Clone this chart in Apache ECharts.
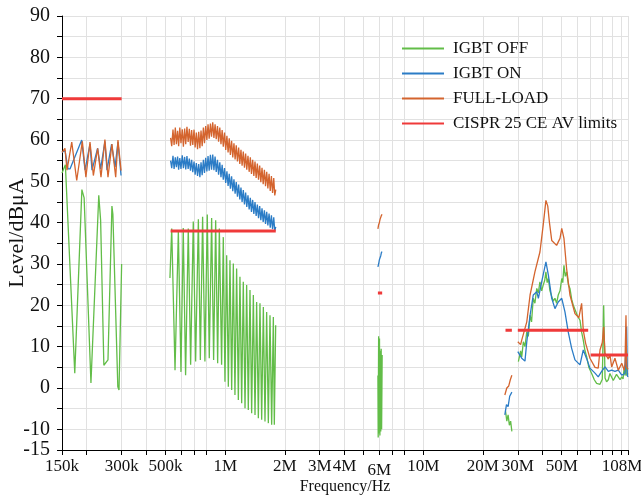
<!DOCTYPE html>
<html>
<head>
<meta charset="utf-8">
<script src="https://cdn.jsdelivr.net/npm/echarts@6/dist/echarts.min.js"></script>
<style>
  html, body { margin: 0; padding: 0; background: #fff; }
  #chart { width: 641px; height: 501px; }
</style>
</head>
<body>
<div id="chart"></div>
<script>
// frequencies in MHz, levels in dBuA
var tickMHz = [0.15, 0.2, 0.3, 0.4, 0.5, 0.6, 0.7, 0.8, 1, 2, 3, 4, 5, 6, 7, 8, 10, 20, 30, 40, 50, 60, 70, 80, 90, 100, 108];
var labelMHz = [0.15, 0.3, 0.5, 1, 2, 3, 4, 6, 10, 20, 30, 50, 108];
var labelText = ['150k', '300k', '500k', '1M', '2M', '3M', '4M', '{low|6M}', '10M', '20M', '30M', '50M', '{end|108M}'];
var names = ['IGBT OFF', 'IGBT ON', 'FULL-LOAD', 'CISPR 25 CE AV limits'];

// 150k - 300k
var offLw = [[0.150,52],[0.156,54],[0.174,3.6],[0.189,48],[0.194,46],[0.210,1.2],[0.230,46.6],[0.235,40.6],[0.244,5.5],[0.256,6.8],[0.268,44],[0.271,42],[0.287,0.3],[0.291,-0.5],[0.300,30]];
var onLw = [[0.150,57],[0.1553,57.5],[0.1608,53],[0.1646,53],[0.1886,60],[0.196,52.7],[0.2077,59],[0.2126,52.7],[0.227,58],[0.235,53],[0.247,59.6],[0.253,52.7],[0.267,59],[0.278,53.5],[0.2875,59.5],[0.298,51.4]];
var fullLw = [[0.150,57],[0.1553,58],[0.159,52.7],[0.168,59.5],[0.178,50.2],[0.190,59.7],[0.198,51],[0.2077,59.5],[0.216,51.4],[0.227,58],[0.236,51],[0.247,60.1],[0.256,51],[0.268,59],[0.280,51],[0.2875,60],[0.298,52.6]];

// 530k - 1.8M
var amFreq = [0.53,0.537,0.545,0.552,0.56,0.567,0.575,0.582,0.59,0.598,0.607,0.615,0.624,0.632,0.641,0.65,0.659,0.668,0.677,0.686,
  0.696,0.705,0.715,0.725,0.735,0.745,0.755,0.765,0.776,0.786,0.797,0.808,0.819,0.83,0.842,0.853,0.865,0.877,0.889,0.901,
  0.914,0.926,0.939,0.952,0.965,0.978,0.992,1.006,1.02,1.034,1.048,1.062,1.077,1.092,1.107,1.122,1.137,1.153,1.169,1.185,
  1.201,1.217,1.234,1.251,1.268,1.285,1.303,1.321,1.339,1.357,1.376,1.395,1.414,1.433,1.453,1.473,1.493,1.513,1.534,1.555,
  1.577,1.598,1.62,1.642,1.665,1.688,1.711,1.734,1.758,1.779,1.8];
var onAm = [55,53.2,56.2,53,55.8,53.4,56,52.8,55.6,53,56.3,53.2,55.9,52.9,56.1,53,55.5,52.6,55.2,52.2,
  54.8,51.6,54.4,51.3,54.2,51,54.6,51.5,55.2,52,55.7,52.4,56.1,52.6,56.4,52.8,56.5,52.7,56,52.3,
  55.2,51.6,54.6,51,54,50.4,53.2,49.6,52.4,48.9,51.8,48.2,51.2,47.6,50.5,47,49.8,46.3,49.2,45.6,
  48.5,45,47.9,44.4,47.3,43.8,46.6,43.2,46,42.6,45.5,42.1,45,41.6,44.4,41.1,44,40.6,43.5,40.2,
  43,39.7,42.6,39.3,42.2,38.8,41.8,38.4,41.3,38,39];
var fullAm = [60.5,58.5,62.5,58.8,63,59,62.2,58.5,63,59.2,62.6,58.4,62.8,59,63.2,59.5,62.7,58.6,62.4,58.8,
  62.5,58.2,61.8,57.8,62,58,62.3,58.5,63,59.2,63.4,60,63.8,60.3,64,60.8,64.3,60.5,63.8,60.2,
  63.4,59.6,63,59,62.4,58.4,61.8,57.6,61,57,60.4,56.4,59.8,55.8,59.2,55.3,58.7,54.8,58.2,54.2,
  57.6,53.8,57.2,53.3,56.7,52.8,56.2,52.3,55.8,51.8,55.2,51.3,54.8,50.8,54.3,50.4,53.8,49.8,53.3,49.3,
  52.8,48.8,52.3,48.3,51.8,47.7,51.3,47.2,50.8,46.6,48];
var offAm = [[0.526,26.6],[0.537,38.6],[0.558,4.3],[0.580,37.9],[0.598,3.9],[0.614,38.7],[0.631,3.1],[0.651,38.6],[0.669,5.6],[0.690,40.3],[0.709,6.4],[0.732,40.8],[0.749,6.8],[0.769,41.4],[0.790,6.4],[0.812,42.0],[0.831,7.2],[0.854,41.1],[0.874,6.8],[0.895,40.6],[0.916,6.0],[0.934,38.6],[0.959,5.6],[0.978,36.5],[0.997,1.5],[1.017,32.1],[1.037,0.3],[1.057,30.9],[1.078,-0.5],[1.099,30.1],[1.120,-1.7],[1.142,28.9],[1.165,-2.9],[1.187,26.9],[1.211,-3.7],[1.234,25.7],[1.259,-4.9],[1.283,24.9],[1.308,-5.3],[1.334,23.7],[1.360,-6.1],[1.387,22.5],[1.414,-6.5],[1.441,20.8],[1.470,-7.3],[1.498,20.5],[1.528,-7.7],[1.558,19.6],[1.588,-8.1],[1.619,18.4],[1.651,-8.5],[1.683,17.6],[1.716,-8.9],[1.750,17.2],[1.770,-8.9],[1.798,15.2]];

// 5.9M - 6.2M
var swFreq = [5.9,5.95,6.0,6.05,6.1,6.15,6.2];
var onSw = [29.3,30,31,31.5,32,32.8,33];
var fullSw = [38.5,39.5,40,40.8,41.2,41.8,42];
var offSw = [[5.9,3],[5.92,-12],[5.95,12.5],[5.98,-11],[6.01,12],[6.04,-11.5],[6.07,9],[6.1,-10.5],[6.13,9.5],[6.16,-10],[6.2,8]];

// 26M - 28M
var offCb = [[26,-5.5],[26.4,-8],[26.8,-6.5],[27.2,-9],[27.6,-8],[28,-10.5]];
var onCb = [[25.8,-6.5],[26.3,-4],[26.8,-4.5],[27.3,-2],[28,-1]];
var fullCb = [[25.8,-1.7],[26.4,0],[27,0.5],[27.5,2],[28,3.1]];

// 30M - 108M
var offVhf = [[30.2,6.4],[31,9],[31.4,7.5],[32,11.2],[32.6,10],[33.3,13.6],[33.9,12.5],[34.6,17.6],[35.2,16],[35.9,21.7],[36.6,20.5],[37.4,24.1],[38.1,23],[38.8,25.7],[39.6,23.5],[40.3,24.9],[41,26],[41.6,28.1],[42.2,25.5],[42.8,26.5],[43.6,23.5],[44.5,23.3],[45.3,21],[46.2,21.7],[47.1,20.5],[48,22.5],[49,23.5],[50,26.5],[50.6,25.5],[51.3,29.7],[52.1,27],[52.9,28.1],[54,25],[55,24.1],[56.1,21.5],[57.2,20],[58.3,19],[60,17.5],[61.8,16.4],[63,13.5],[64.2,11.6],[65.5,9],[66.8,7.6],[68.5,5],[70.8,3.5],[73,2],[75,1.1],[78,0.9],[80.1,2.1],[81.4,20],[82.7,2.4],[84.2,1.5],[85.9,2],[87.5,3.5],[89.3,3.1],[91,1.8],[92.8,2],[94.5,3.3],[96.5,3.1],[98.5,2],[100.4,2.7],[102,2.2],[103.4,5.1],[104.6,3],[105.5,11.6],[106.5,3],[108,3.5]];
var onVhf = [[30,8.8],[31.4,7.2],[32.6,6.5],[33.3,11.2],[34.6,17.6],[35.9,22.5],[37.4,23.3],[38.1,21.7],[39.6,25.7],[41.6,30.5],[42.8,27.3],[44.5,21.7],[46.2,19.2],[48,20.8],[50,21.7],[51.9,18.4],[53.9,13.6],[56.1,9.6],[58.3,6.8],[61.8,5.6],[64.2,9.2],[66.8,7.1],[69.4,4.8],[73.6,3.6],[76.4,2.7],[79.5,4],[82.7,5.1],[85.9,4],[89.3,4.3],[92.8,4],[96.5,4.3],[100.4,3.1],[104.3,3.5],[106.3,14.8],[107.2,3],[108,2.7]];
var fullVhf = [[30,11.2],[31,10.5],[31.4,11.6],[33.3,16],[34.6,22.5],[36.6,28.1],[38.8,32.9],[40.3,39.4],[41.6,45.4],[42.5,44],[43.3,40.2],[44.5,35.7],[47.1,34.5],[49,36.2],[50,38.6],[51.3,36.2],[52.9,28.9],[55,22.5],[58.3,18],[61,17],[63,20.5],[64.2,14],[66,10.8],[69.4,7.2],[73.6,5],[76.4,4.8],[78,9.2],[80.1,11],[81.4,14.8],[82.7,8.4],[85.9,7],[87.5,8.2],[89.3,5.1],[92.8,7.2],[96.5,4.3],[100.4,6],[103.4,4.3],[104.3,6],[105.5,17.6],[106.3,5.1],[108,4.5]];

// limit lines
var limLw = [[0.15,70],[0.3,70]];
var limAm = [[0.53,38],[1.8,38]];
var limSw = [[5.9,23],[6.2,23]];
var limCb = [[26,14],[28,14]];
var limVhf = [[30,14],[68,14]];
var limFm = [[70,8],[108,8]];

function lg(f) { return Math.log10(f * 1e6); }
function zip(fs, vs) { return fs.map(function (f, i) { return [f, vs[i]]; }); }
function build(parts) {
  var out = [];
  parts.forEach(function (p, i) {
    if (i) out.push([lg(p[0][0]) - 0.002, null]);
    p.forEach(function (d) { out.push([lg(d[0]), d[1]]); });
  });
  return out;
}

var tickVals = tickMHz.map(lg);
var labelVals = labelMHz.map(lg);
var serif = 'Liberation Serif';
var colors = ['#62bd48', '#2b7cc6', '#d4642e', '#ef3a3a'];

var chart = echarts.init(document.getElementById('chart'));

function line(name, data, color, width, z) {
  return {
    name: name, type: 'line', data: data, symbol: 'none', connectNulls: false,
    lineStyle: { color: color, width: width }, itemStyle: { color: color },
    z: z, animation: false
  };
}

chart.setOption({
  backgroundColor: '#fff',
  animation: false,
  grid: { left: 62, right: 13, top: 16, bottom: 51, containLabel: false, outerBoundsMode: 'none' },
  legend: {
    orient: 'vertical', left: 397, top: 35,
    icon: 'rect', itemWidth: 42, itemHeight: 2, itemGap: 8,
    textStyle: { fontFamily: serif, fontSize: 17, lineHeight: 17, color: '#111', padding: [0, 0, 0, 4] },
    data: names
  },
  xAxis: {
    type: 'value',
    min: lg(0.15), max: lg(108),
    name: 'Frequency/Hz', nameLocation: 'middle', nameGap: 29, nameMoveOverlap: false,
    nameTextStyle: { fontFamily: serif, fontSize: 16, color: '#111' },
    axisLine: { show: true, onZero: false, lineStyle: { color: '#000', width: 1 } },
    axisTick: { show: true, customValues: tickVals, length: 5, lineStyle: { color: '#000' } },
    axisLabel: {
      customValues: labelVals, margin: 8,
      fontFamily: serif, fontSize: 17, color: '#111',
      rich: {
        low: { fontFamily: serif, fontSize: 17, color: '#111', padding: [4, 0, 0, 0] },
        end: { fontFamily: serif, fontSize: 17, color: '#111', padding: [0, 12, 0, 0] }
      },
      formatter: function (v) {
        for (var i = 0; i < labelVals.length; i++) {
          if (Math.abs(labelVals[i] - v) < 1e-6) return labelText[i];
        }
        return '';
      }
    },
    splitLine: { show: true, lineStyle: { color: '#e1e1e1', width: 1 } }
  },
  yAxis: {
    type: 'value', min: -15, max: 90, interval: 5,
    name: 'Level/dBμA', nameLocation: 'middle', nameGap: 34, nameMoveOverlap: false,
    nameTextStyle: { fontFamily: serif, fontSize: 22, color: '#111' },
    axisLine: { show: true, lineStyle: { color: '#000', width: 1 } },
    axisTick: { show: true, length: 5, lineStyle: { color: '#000' } },
    axisLabel: {
      fontFamily: serif, fontSize: 20, color: '#111', margin: 12,
      formatter: function (v) { return (v % 10 === 0 || v === -15) ? String(v) : ''; }
    },
    splitLine: { show: true, lineStyle: { color: '#e1e1e1', width: 1 } }
  },
  series: [
    line(names[0], build([offLw, offAm, offSw, offCb, offVhf]), colors[0], 1.3, 2),
    line(names[1], build([onLw, zip(amFreq, onAm), zip(swFreq, onSw), onCb, onVhf]), colors[1], 1.3, 3),
    line(names[2], build([fullLw, zip(amFreq, fullAm), zip(swFreq, fullSw), fullCb, fullVhf]), colors[2], 1.3, 4),
    line(names[3], build([limLw, limAm, limSw, limCb, limVhf, limFm]), colors[3], 3, 5)
  ]
});
</script>
</body>
</html>
